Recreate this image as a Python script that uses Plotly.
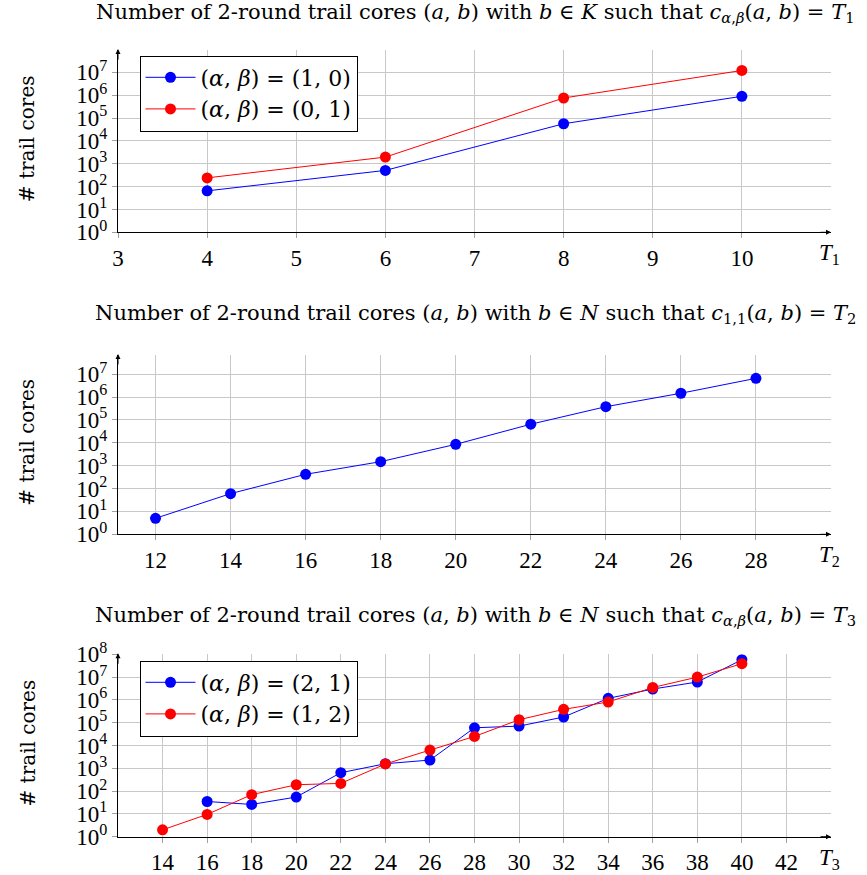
import plotly.graph_objects as go

# ---------------- data ----------------
# Panel 1: b in K, c_{alpha,beta}(a,b) = T1
t1 = [4, 6, 8, 10]
p1_ab10 = [65, 510, 56000, 890000]
p1_ab01 = [240, 1950, 750000, 12000000]
t1_ticks = [3, 4, 5, 6, 7, 8, 9, 10]

# Panel 2: b in N, c_{1,1}(a,b) = T2
t2 = [12, 14, 16, 18, 20, 22, 24, 26, 28]
p2_c11 = [5, 60, 420, 1500, 8600, 65000, 380000, 1470000, 6600000]
t2_ticks = [12, 14, 16, 18, 20, 22, 24, 26, 28]

# Panel 3: b in N, c_{alpha,beta}(a,b) = T3
t3_ab21 = [16, 18, 20, 22, 24, 26, 28, 30, 32, 34, 36, 38, 40]
p3_ab21 = [35, 26, 55, 640, 1590, 2300, 60000, 71000, 178000, 1170000, 3000000, 6100000, 58000000]
t3_ab12 = [14, 16, 18, 20, 22, 24, 26, 28, 30, 32, 34, 36, 38, 40]
p3_ab12 = [2, 9.5, 70, 190, 218, 1550, 6300, 25000, 135000, 385000, 810000, 3500000, 10000000, 39000000]
t3_ticks = [14, 16, 18, 20, 22, 24, 26, 28, 30, 32, 34, 36, 38, 40, 42]

y_exp_7 = list(range(0, 8))
y_exp_8 = list(range(0, 9))

# ---------------- style / geometry ----------------
OFF = 0                      # body margin removed via post_script
W, H = 867 - OFF, 875 - OFF  # figure size
PL, PR = 118, 831            # plot area left/right in page pixels
L = PL - OFF
R = W - (PR - OFF)

TICKFONT = "Liberation Serif, Times New Roman, serif"
TEXTFONT = "DejaVu Serif, serif"
BLUE = "#0000ff"
RED = "#ff0000"
GRID = "#c8c8c8"

def Y(px):  # page pixel-from-top -> paper y
    return 1 - (px - OFF) / H

def X(px):  # page pixel-from-left -> paper x
    return (px - PL) / (PR - PL)

fig = go.Figure()

def add_series(x, y, color, name, xa, ya, legend, showlegend=True):
    fig.add_trace(go.Scatter(
        x=x, y=y, mode="lines+markers", name=name,
        line=dict(color=color, width=1),
        marker=dict(color=color, size=11),
        xaxis=xa, yaxis=ya, legend=legend, showlegend=showlegend))

name10 = "(<i>α</i>, <i>β</i>) = (1, 0)"
name01 = "(<i>α</i>, <i>β</i>) = (0, 1)"
name21 = "(<i>α</i>, <i>β</i>) = (2, 1)"
name12 = "(<i>α</i>, <i>β</i>) = (1, 2)"

add_series(t1, p1_ab10, BLUE, name10, "x", "y", "legend")
add_series(t1, p1_ab01, RED, name01, "x", "y", "legend")
add_series(t2, p2_c11, BLUE, "c11", "x2", "y2", "legend", showlegend=False)
add_series(t3_ab21, p3_ab21, BLUE, name21, "x3", "y3", "legend2")
add_series(t3_ab12, p3_ab12, RED, name12, "x3", "y3", "legend2")

def xaxis_cfg(rng, ticks, anchor):
    return dict(range=rng, tickvals=ticks, ticktext=[str(t) for t in ticks],
                showgrid=True, gridcolor=GRID, gridwidth=1,
                showline=True, linecolor="black", linewidth=1,
                ticks="outside", ticklen=5, tickcolor="#a0a0a0",
                zeroline=False, domain=[0, 1], anchor=anchor,
                tickfont=dict(family=TICKFONT, size=23, color="black"))

def yaxis_cfg(rng, exps, bot, top, anchor):
    return dict(type="log", range=rng, domain=[Y(bot), Y(top)], anchor=anchor,
                tickvals=[10 ** e for e in exps],
                ticktext=["10<sup>%d</sup>" % e for e in exps],
                showgrid=True, gridcolor=GRID, gridwidth=1,
                showline=True, linecolor="black", linewidth=1,
                ticks="outside", ticklen=5, tickcolor="#a0a0a0",
                zeroline=False,
                tickfont=dict(family=TICKFONT, size=23, color="black"))

# pixel geometry (bottom, top) of the three panels, page pixels
P1 = (232.3, 50.1)
P2 = (534.3, 355.0)
P3 = (836.7, 654.3)

fig.update_layout(
    xaxis=xaxis_cfg([3, 11], t1_ticks, "y"),
    yaxis=yaxis_cfg([0, 7.97], y_exp_7, P1[0], P1[1], "x"),
    xaxis2=xaxis_cfg([11, 30], t2_ticks, "y2"),
    yaxis2=yaxis_cfg([0, 7.84], y_exp_7, P2[0], P2[1], "x2"),
    xaxis3=xaxis_cfg([12, 44], t3_ticks, "y3"),
    yaxis3=yaxis_cfg([0, 8.001], y_exp_8, P3[0], P3[1], "x3"),
)

legend_common = dict(
    xanchor="left", yanchor="top", bgcolor="white",
    bordercolor="black", borderwidth=1,
    font=dict(family=TEXTFONT, size=22, color="black"),
    itemwidth=50, tracegroupgap=0)

fig.update_layout(
    width=W, height=H,
    margin=dict(l=L, r=R, t=0, b=0, autoexpand=False),
    paper_bgcolor="white", plot_bgcolor="white",
    hovermode=False,
    legend=dict(legend_common, x=X(139.5), y=Y(55.5)),
    legend2=dict(legend_common, x=X(139.5), y=Y(660.5)),
)

annotations = []
titles = [
    ("Number of 2-round trail cores (<i>a</i>, <i>b</i>) with <i>b</i> ∈ <i>K</i> such that "
     "<i>c</i><sub><i>α</i>,<i>β</i></sub>(<i>a</i>, <i>b</i>) = <i>T</i><sub>1</sub>", 13),
    ("Number of 2-round trail cores (<i>a</i>, <i>b</i>) with <i>b</i> ∈ <i>N</i> such that "
     "<i>c</i><sub>1,1</sub>(<i>a</i>, <i>b</i>) = <i>T</i><sub>2</sub>", 314),
    ("Number of 2-round trail cores (<i>a</i>, <i>b</i>) with <i>b</i> ∈ <i>N</i> such that "
     "<i>c</i><sub><i>α</i>,<i>β</i></sub>(<i>a</i>, <i>b</i>) = <i>T</i><sub>3</sub>", 616),
]
for text, ypx in titles:
    annotations.append(dict(text=text, xref="paper", yref="paper",
                            x=X(475), y=Y(ypx), xanchor="center", yanchor="middle",
                            showarrow=False,
                            font=dict(family=TEXTFONT, size=21, color="black")))

for (bot, top), lbl in zip([P1, P2, P3], ["1", "2", "3"]):
    # y-axis label
    annotations.append(dict(text="# trail cores", xref="paper", yref="paper",
                            x=X(27), y=Y((bot + top) / 2 - 2), textangle=-90,
                            xanchor="center", yanchor="middle", showarrow=False,
                            font=dict(family=TEXTFONT, size=20, color="black")))
    # x-axis label at end of axis
    annotations.append(dict(text="<i>T</i><sub>%s</sub>" % lbl, xref="paper", yref="paper",
                            x=X(829), y=Y(bot + 22), xanchor="center", yanchor="middle",
                            showarrow=False,
                            font=dict(family=TICKFONT, size=23, color="black")))
    # arrowheads
    annotations.append(dict(text="", xref="paper", yref="paper",
                            x=X(831), y=Y(bot), ax=-12, ay=0,
                            showarrow=True, arrowhead=2, arrowsize=1, arrowwidth=1,
                            arrowcolor="black"))
    annotations.append(dict(text="", xref="paper", yref="paper",
                            x=X(118), y=Y(top - 1), ax=0, ay=12,
                            showarrow=True, arrowhead=2, arrowsize=1, arrowwidth=1,
                            arrowcolor="black"))

fig.update_layout(annotations=annotations)

fig.write_html("out.html",
               config={"displayModeBar": False, "staticPlot": True},
               post_script="document.body.style.margin='0px';")
